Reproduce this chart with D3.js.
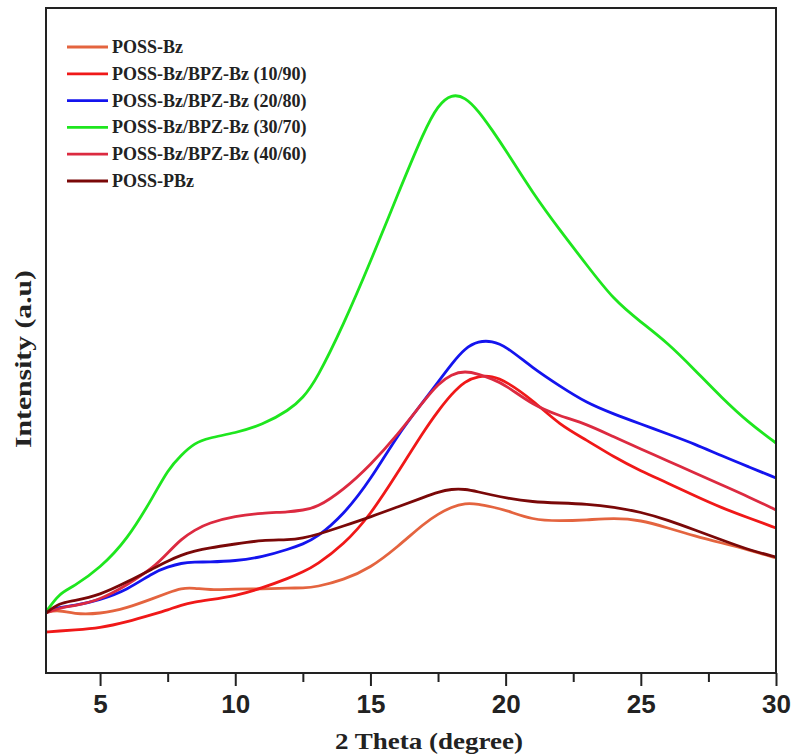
<!DOCTYPE html>
<html>
<head>
<meta charset="utf-8">
<script src="https://cdn.jsdelivr.net/npm/d3@7"></script>
<style>
  body { margin: 0; background: #fff; }
</style>
</head>
<body>
<div id="chart"></div>
<script>
var width = 793, height = 756;

// 2 Theta values shared by all series
var theta = [3, 3.5, 4, 5, 6, 7, 7.5, 8, 8.5, 9, 10, 11, 12, 12.5, 13, 14, 15, 16, 17, 17.5,
             18, 18.5, 19, 19.5, 20, 21, 22, 23, 24, 25, 26, 27, 28, 29, 30];

// intensities (a.u.)
var possBz   = [61, 63, 59, 59, 65, 75, 80, 85, 85, 83, 84, 84, 85, 85, 86, 93, 105, 126, 150, 159,
                166, 170, 169, 166, 163, 153, 152, 153, 155, 153, 145, 137, 130, 123, 115];
var bz10_90  = [41, 42, 43, 45, 51, 59, 63, 68, 71, 73, 77, 85, 95, 101, 108, 128, 158, 200, 243, 262,
                279, 292, 297, 297, 292, 273, 248, 233, 216, 202, 190, 177, 165, 155, 145];
var bz20_80  = [61, 66, 67, 73, 83, 101, 106, 110, 111, 111, 112, 116, 124, 129, 135, 158, 193, 238, 273, 291,
                309, 325, 332, 332, 327, 305, 287, 270, 259, 249, 239, 229, 217, 206, 195];
var bz30_70  = [61, 80, 86, 105, 133, 178, 203, 218, 230, 235, 240, 248, 263, 275, 293, 348, 411, 478, 543, 568,
                579, 576, 562, 543, 523, 480, 443, 408, 373, 351, 330, 303, 275, 250, 230];
var bz40_60  = [60, 65, 67, 73, 88, 106, 120, 134, 143, 150, 157, 160, 161, 163, 165, 183, 208, 238, 273, 289,
                299, 302, 299, 294, 288, 268, 257, 249, 236, 224, 212, 200, 188, 176, 163];
var possPBz  = [60, 70, 72, 78, 91, 105, 112, 118, 122, 125, 129, 133, 133, 135, 138, 147, 156, 166, 176, 181,
                184, 184, 181, 178, 175, 171, 170, 169, 166, 161, 153, 143, 133, 123, 116];

var seriesNames  = ["POSS-Bz", "POSS-Bz/BPZ-Bz (10/90)", "POSS-Bz/BPZ-Bz (20/80)",
                    "POSS-Bz/BPZ-Bz (30/70)", "POSS-Bz/BPZ-Bz (40/60)", "POSS-PBz"];
var seriesValues = [possBz, bz10_90, bz20_80, bz30_70, bz40_60, possPBz];
var seriesColors = ["#e4643f", "#f01818", "#1414ee", "#1ee61e", "#dc2a40", "#7a0808"];

var xTicks = [5, 10, 15, 20, 25, 30];
var xMinorTicks = [7.5, 12.5, 17.5, 22.5, 27.5];

var margin = {left: 46, right: 17, top: 8, bottom: 83};

var svg = d3.select("#chart")
            .append("svg")
            .attr("width", width)
            .attr("height", height);

var x = d3.scaleLinear()
          .domain([3, 30])
          .range([margin.left, width - margin.right]);

var y = d3.scaleLinear()
          .domain([0, 665])
          .range([height - margin.bottom, margin.top]);

// curves
var line = d3.line()
             .x(function(d) { return x(d[0]); })
             .y(function(d) { return y(d[1]); })
             .curve(d3.curveBasis);

seriesValues.forEach(function(vals, i) {
    svg.append("path")
       .datum(theta.map(function(t, j) { return [t, vals[j]]; }))
       .attr("fill", "none")
       .attr("stroke", seriesColors[i])
       .attr("stroke-width", 2.8)
       .attr("d", line);
});

// frame
svg.append("rect")
   .attr("x", margin.left)
   .attr("y", margin.top)
   .attr("width", width - margin.left - margin.right)
   .attr("height", height - margin.top - margin.bottom)
   .attr("fill", "none")
   .attr("stroke", "#222")
   .attr("stroke-width", 2);

// bottom axis
var xAxis = svg.append("g")
   .attr("transform", "translate(0," + (height - margin.bottom) + ")")
   .call(d3.axisBottom(x).tickValues(xTicks).tickSize(13).tickPadding(9).tickFormat(d3.format("d")));
xAxis.select(".domain").remove();
xAxis.selectAll("line").attr("stroke", "#222").attr("stroke-width", 2);
xAxis.selectAll("text")
     .attr("font-family", "Liberation Sans, Arial, sans-serif")
     .attr("font-weight", "bold")
     .attr("font-size", 26)
     .attr("fill", "#222");

var xMinor = svg.append("g")
   .attr("transform", "translate(0," + (height - margin.bottom) + ")")
   .call(d3.axisBottom(x).tickValues(xMinorTicks).tickSize(9).tickFormat(""));
xMinor.select(".domain").remove();
xMinor.selectAll("line").attr("stroke", "#222").attr("stroke-width", 2);

// axis titles
svg.append("text")
   .attr("x", 429)
   .attr("y", 749)
   .attr("text-anchor", "middle")
   .attr("font-family", "Liberation Serif, Times New Roman, serif")
   .attr("font-weight", "bold")
   .attr("font-size", 24)
   .attr("textLength", 188)
   .attr("lengthAdjust", "spacingAndGlyphs")
   .attr("fill", "#222")
   .text("2 Theta (degree)");

svg.append("text")
   .attr("transform", "translate(31,359) rotate(-90)")
   .attr("text-anchor", "middle")
   .attr("font-family", "Liberation Serif, Times New Roman, serif")
   .attr("font-weight", "bold")
   .attr("font-size", 24)
   .attr("textLength", 178)
   .attr("lengthAdjust", "spacingAndGlyphs")
   .attr("fill", "#222")
   .text("Intensity (a.u)");

// legend
var legend = svg.append("g").attr("transform", "translate(67,47)");
seriesNames.forEach(function(name, i) {
    var row = legend.append("g").attr("transform", "translate(0," + (i * 26.8) + ")");
    row.append("line")
       .attr("x1", 0).attr("x2", 41)
       .attr("y1", 0).attr("y2", 0)
       .attr("stroke", seriesColors[i])
       .attr("stroke-width", 2.8);
    row.append("text")
       .attr("x", 45)
       .attr("y", 6)
       .attr("font-family", "Liberation Serif, Times New Roman, serif")
       .attr("font-weight", "bold")
       .attr("font-size", 18)
       .attr("fill", "#222")
       .text(name);
});
</script>
</body>
</html>
